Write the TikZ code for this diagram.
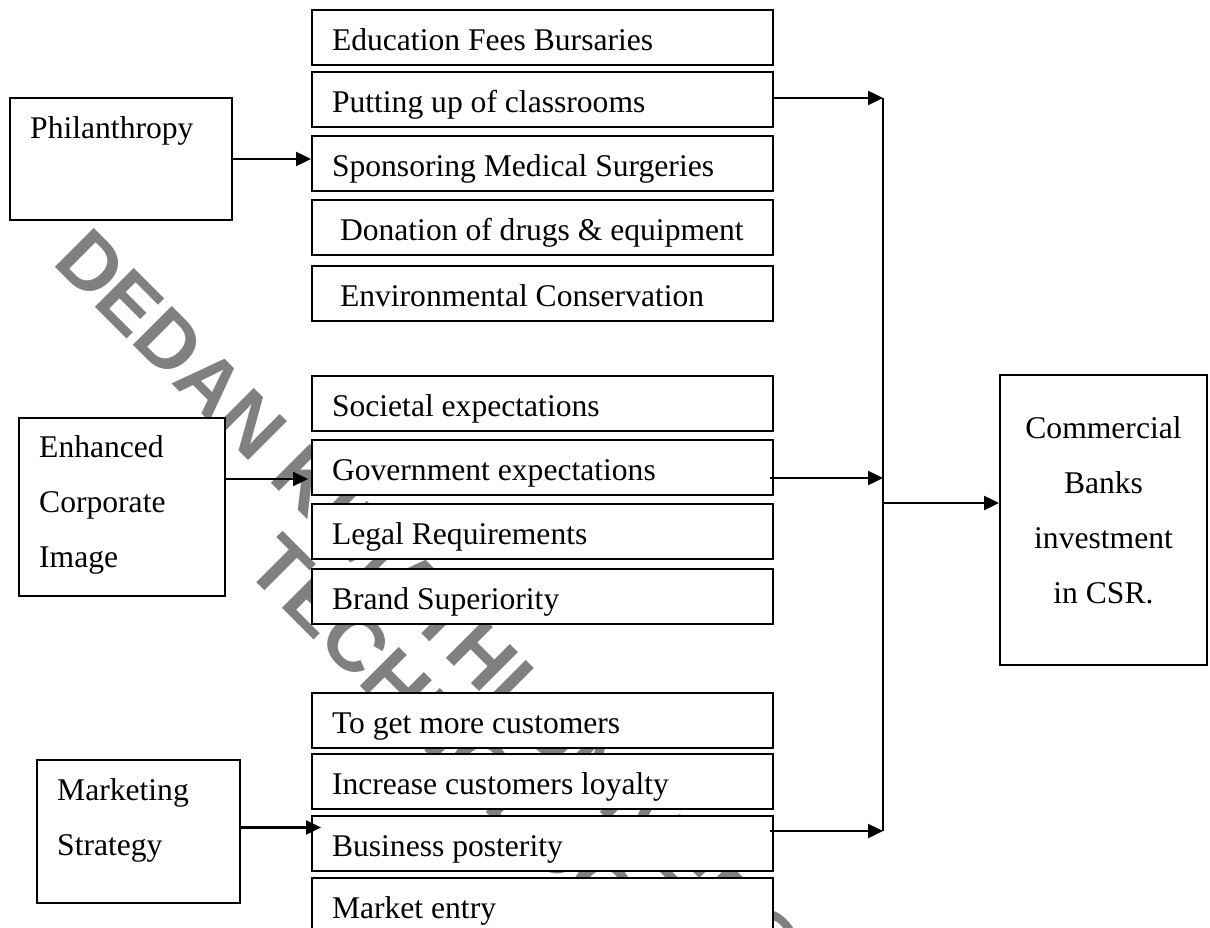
\documentclass[tikz,border=0pt]{standalone}
\usepackage{fontspec}
\setmainfont{Liberation Serif}
\newfontfamily\wmfont{Liberation Sans}
\usepackage{tikz}
\usetikzlibrary{positioning, arrows.meta}

\newcommand\topstrut{\rule{0pt}{28pt}}

\tikzset{
  factor/.style={draw, fill=white, line width=2pt, anchor=north west,
    inner xsep=20pt, inner ysep=0pt,
    minimum height=55pt, text height=28pt, text depth=2pt},
  driver/.style={draw, fill=white, line width=2pt, anchor=north west, inner sep=0pt},
  drvtext/.style={anchor=north west, inner sep=0pt, align=left},
  conn/.style={line width=2.4pt, -{Triangle[length=15pt, width=14pt]}},
  rail/.style={line width=2pt},
  wmark/.style={text=black!50, rotate=-45, anchor=base, inner sep=0pt,
    font=\wmfont\bfseries\fontsize{80}{80}\selectfont}
}

\begin{document}
\begin{tikzpicture}[x=1pt, y=-1pt, font=\fontsize{31.6}{55}\selectfont]
  \useasboundingbox (0,0) rectangle (1210,928);
  \clip (0,0) rectangle (1210,928);
  % Watermark (behind everything)
  \node[wmark] (wmA) at (500,712) {DEDAN KIMATHI UNIVERSITY OF};
  \node[wmark] (wmB) at (443,769) {TECHNOLOGY};

  % Factor boxes (middle column)
  \foreach \nm/\ty/\txt in {
    edu/9/Education Fees Bursaries,
    putt/71/Putting up of classrooms,
    spon/135/Sponsoring Medical Surgeries,
    don/199/{\hspace*{8pt}Donation of drugs \& equipment},
    env/265/{\hspace*{8pt}Environmental Conservation},
    soc/375/Societal expectations,
    gov/439/Government expectations,
    legal/503/Legal Requirements,
    brand/568/Brand Superiority,
    more/692/To get more customers,
    loyal/753/Increase customers loyalty,
    bpost/815/Business posterity,
    entry/877/Market entry%
  }
    \node[factor] (\nm) at (311,\ty) {\makebox[421pt][l]{\txt}};

  % Drivers (left column)
  \node[driver, minimum width=222pt, minimum height=122pt] (phil) at (9,97) {};
  \node[drvtext] (philtxt) at ([xshift=21pt, yshift=-13pt]phil.north west) {\topstrut Philanthropy};
  \node[driver, minimum width=206pt, minimum height=178pt] (enh) at (18,417) {};
  \node[drvtext] (enhtxt) at ([xshift=21pt, yshift=-12pt]enh.north west) {\topstrut Enhanced\\Corporate\\Image};
  \node[driver, minimum width=203pt, minimum height=143pt] (mkt) at (36,759) {};
  \node[drvtext] (mkttxt) at ([xshift=21pt, yshift=-13pt]mkt.north west) {\topstrut Marketing\\Strategy};

  % Outcome
  \node[driver, minimum width=207pt, minimum height=290pt] (csr) at (999,374) {};
  \node[drvtext, anchor=north, align=center] (csrtxt) at ([yshift=-36pt]csr.north) {\topstrut Commercial\\Banks\\investment\\in CSR.};

  % Arrows into the factors
  \coordinate (enharr) at ([yshift=28pt]enh.east);
  \coordinate (mktarr) at ([yshift=4pt]mkt.east);
  \draw[conn] (phil.east) -- (phil.east -| spon.west);
  \draw[conn, shorten >=3pt] (enharr) -- (enharr -| gov.west);
  \draw[conn, shorten >=-10pt] (mktarr) -- (mktarr -| bpost.west);

  % Rail on the right
  \coordinate (railtop) at (883,98);
  \coordinate (railgov) at (883,478);
  \coordinate (railmid) at (883,503);
  \coordinate (railbot) at (883,831);
  \draw[conn] (railtop -| putt.east) -- (railtop);
  \draw[conn, shorten <=-4pt] (railgov -| gov.east) -- (railgov);
  \draw[conn, shorten <=-4pt] (railbot -| bpost.east) -- (railbot);
  \draw[rail] (railtop) -- (railbot);
  \draw[conn] (railmid) -- (railmid -| csr.west);
\end{tikzpicture}
\end{document}
